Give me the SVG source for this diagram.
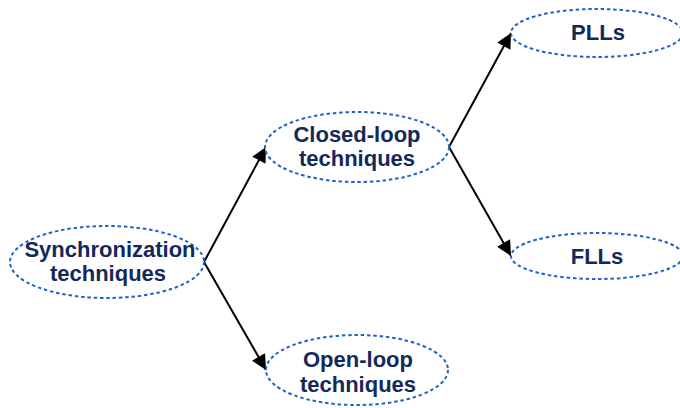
<svg xmlns="http://www.w3.org/2000/svg" width="680" height="408" viewBox="0 0 680 408">
  <style>
    .node ellipse { fill: #ffffff; stroke: #1f63c9; stroke-width: 2; stroke-dasharray: 3.5 2.8; }
    .node text { font-family: "Liberation Sans", Arial, sans-serif; font-weight: bold; font-size: 22px; fill: #13295a; text-anchor: middle; }
    .edge { stroke: #000000; stroke-width: 2; fill: none; marker-end: url(#arrow); }
  </style>
  <defs>
    <marker id="arrow" viewBox="0 0 10 10" refX="10" refY="5" markerWidth="9" markerHeight="7.5" orient="auto" markerUnits="strokeWidth">
      <path d="M0,0 L10,5 L0,10 Z" fill="#000000"/>
    </marker>
  </defs>
  <rect width="680" height="408" fill="#ffffff"/>

  <g id="connectors">
    <line class="edge" x1="204" y1="262" x2="266" y2="147"/>
    <line class="edge" x1="204" y1="262" x2="266" y2="370"/>
    <line class="edge" x1="449" y1="147" x2="511" y2="33"/>
    <line class="edge" x1="449" y1="147" x2="511" y2="256"/>
  </g>

  <g id="sync" class="node">
    <ellipse cx="107" cy="262" rx="97" ry="36"/>
    <text x="110" y="257">Synchronization</text>
    <text x="108" y="281">techniques</text>
  </g>

  <g id="closed" class="node">
    <ellipse cx="357" cy="147" rx="92" ry="35"/>
    <text x="357" y="142">Closed-loop</text>
    <text x="357" y="166">techniques</text>
  </g>

  <g id="open" class="node">
    <ellipse cx="357" cy="370" rx="91" ry="35"/>
    <text x="358" y="367">Open-loop</text>
    <text x="358" y="392">techniques</text>
  </g>

  <g id="plls" class="node">
    <ellipse cx="597" cy="33" rx="86" ry="24"/>
    <text x="598" y="40">PLLs</text>
  </g>

  <g id="flls" class="node">
    <ellipse cx="597" cy="256" rx="86" ry="23"/>
    <text x="597" y="264">FLLs</text>
  </g>
</svg>
